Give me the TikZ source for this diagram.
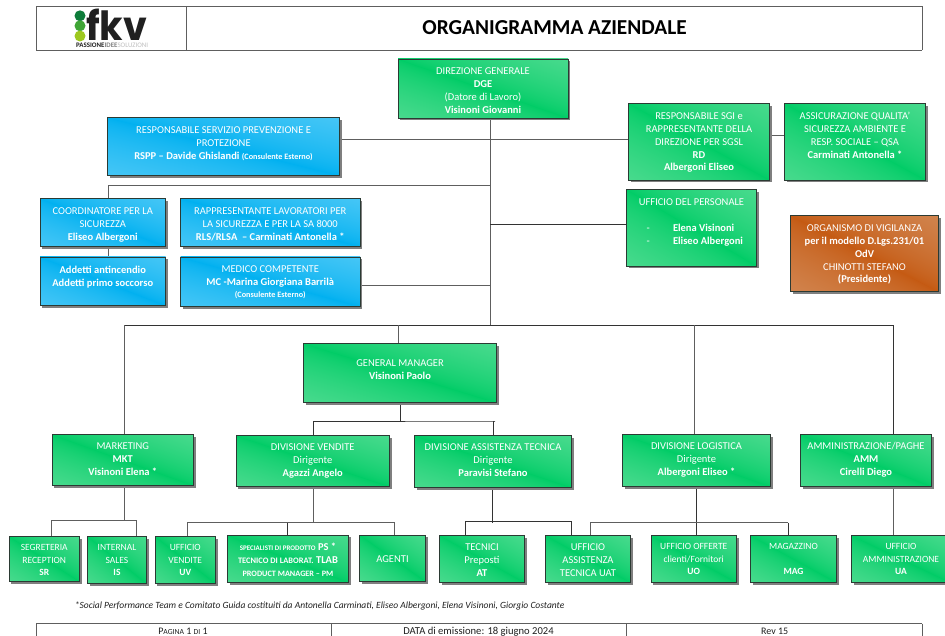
\documentclass[tikz,border=0pt]{standalone}
\usepackage{fontspec}
\usepackage{graphicx}
\setmainfont{Carlito}
\newfontfamily\logofont{Poppins}
\usetikzlibrary{shadows,backgrounds}
\definecolor{lineg}{HTML}{5E5E5E}
\definecolor{lined}{HTML}{333333}
\definecolor{rimc}{HTML}{2B3A33}
\definecolor{shadc}{HTML}{7F7F7F}
\definecolor{ink}{HTML}{202020}
\definecolor{dotone}{HTML}{0E7C3A}
\definecolor{dottwo}{HTML}{3FA535}
\definecolor{dotthree}{HTML}{9DC81F}
\pgfdeclarefunctionalshading{gband}{\pgfpoint{-50bp}{-50bp}}{\pgfpoint{50bp}{50bp}}{}{
  add abs 100 div 0.7 exp dup 0.46 mul exch dup 0.09 mul 0.80 add exch 0.25 mul 0.40 add }
\pgfdeclarefunctionalshading{bband}{\pgfpoint{-50bp}{-50bp}}{\pgfpoint{50bp}{50bp}}{}{
  add abs 100 div 0.7 exp dup 0.44 mul exch dup 0.14 mul 0.69 add exch 0.04 mul 0.94 add }
\pgfdeclarefunctionalshading{oband}{\pgfpoint{-50bp}{-50bp}}{\pgfpoint{50bp}{50bp}}{}{
  add abs 100 div 0.7 exp dup 0.08 mul 0.77 add exch dup 0.27 mul 0.35 add exch 0.38 mul 0.07 add }
\tikzset{
  orgcard/.style={draw=rimc,line width=0.8pt,inner sep=0pt,outer sep=0pt,shade,text=white,
    font=\fontsize{10.5}{12.9}\selectfont,
    drop shadow={shadow xshift=2.4pt,shadow yshift=-2.4pt,fill=shadc,opacity=1}},
  gcard/.style={orgcard,shading=gband},
  bcard/.style={orgcard,shading=bband},
  ocard/.style={orgcard,shading=oband},
  smallcard/.style={gcard,font=\fontsize{9.5}{12.5}\selectfont},
  conn/.style={draw=lineg,line width=0.9pt},
  connd/.style={draw=lined,line width=0.9pt},
  frameline/.style={draw=lineg,line width=1pt},
  labeltext/.style={inner sep=0pt,text=ink}
}
\newcommand{\orgbox}[8]{%
  \pgfmathsetmacro\bw{#5-#3}\pgfmathsetmacro\bh{#6-#4}%
  \node[#2,minimum width=\bw pt,minimum height=\bh pt] (#1) at ({(#3+#5)/2},{(#4+#6)/2})
    {\parbox[c][\bh pt][t]{\bw pt}{\centering\vspace*{#7pt}#8}};}
\newcommand{\tinyb}[1]{{\fontsize{8.2}{12.9}\selectfont\textbf{#1}}}
\newcommand{\specs}[2]{{\fontsize{#1}{12.9}\selectfont\textbf{#2}}}
\begin{document}
\begin{tikzpicture}[x=1pt,y=-1pt]
\useasboundingbox (0,0) rectangle (945,636);
\clip (0,0) rectangle (945,636);

% header
\draw[frameline] (36,6.5) -- (922,6.5) (36,6.5) -- (36,50.5) (186,6.5) -- (186,50.5) (922,6.5) -- (922,50.5);
\draw[draw=lineg,line width=1.1pt] (36,50.5) -- (922,50.5);
\node[labeltext,text=black,font=\fontsize{21.3}{24}\selectfont\bfseries] (title) at (554.5,28) {ORGANIGRAMMA AZIENDALE};
\fill[dotone] (80,15.8) circle (5.5);
\fill[dottwo] (80,25.8) circle (5.5);
\fill[dotthree] (80,36) circle (5.5);
\node[inner sep=0pt,anchor=south west,text=ink] (logo) at (86,40.7) {\resizebox{61pt}{31.5pt}{\logofont\bfseries fkv}};
\node[inner sep=0pt,anchor=north west] (logotag) at (76,43.2) {\resizebox{72pt}{!}{\fontsize{6}{7}\selectfont\color{ink}\textbf{PASSIONE}\color{gray}\textbf{IDEE}\color{lightgray}SOLUZIONI}};

% cards
\orgbox{dg}{gcard}{398}{59}{568}{118}{9}{DIREZIONE GENERALE\\\textbf{DGE}\\(Datore di Lavoro)\\\textbf{Visinoni Giovanni}}
\orgbox{rspp}{bcard}{107.5}{117.5}{339.5}{175.5}{9.5}{RESPONSABILE SERVIZIO PREVENZIONE E\\PROTEZIONE\\\textbf{RSPP -- Davide Ghislandi }\tinyb{(Consulente Esterno)}}
\orgbox{coord}{bcard}{40}{198.5}{165.5}{246.5}{9}{COORDINATORE PER LA\\SICUREZZA\\\textbf{Eliseo Albergoni}}
\orgbox{rls}{bcard}{180.5}{198.5}{360}{246.5}{9}{RAPPRESENTANTE LAVORATORI PER\\LA SICUREZZA E PER LA SA 8000\\\textbf{RLS/RLSA\ \ -- Carminati Antonella *}}
\orgbox{add}{bcard}{40}{257}{165.5}{305.5}{9}{\textbf{Addetti antincendio}\\\textbf{Addetti primo soccorso}}
\orgbox{mc}{bcard}{180.5}{257}{360}{306.5}{9}{MEDICO COMPETENTE\\\textbf{MC -Marina Giorgiana Barrilà}\\[-1.5pt]\tinyb{(Consulente Esterno)}}
\orgbox{rd}{gcard}{628.5}{103.5}{769.5}{180}{9}{RESPONSABILE SGI e\\RAPPRESENTANTE DELLA\\DIREZIONE PER SGSL\\\textbf{RD}\\\textbf{Albergoni Eliseo}}
\orgbox{qsa}{gcard}{784.5}{103.5}{925.5}{180}{9}{ASSICURAZIONE QUALITA’\\SICUREZZA AMBIENTE E\\RESP. SOCIALE -- QSA\\\textbf{Carminati Antonella *}}
\orgbox{up}{gcard}{626.5}{189.5}{756.5}{266}{9.5}{UFFICIO DEL PERSONALE\\[12.8pt]\makebox[\linewidth][l]{\hspace*{20pt}\makebox[26.5pt][l]{-}\textbf{Elena Visinoni}}\\\makebox[\linewidth][l]{\hspace*{20pt}\makebox[26.5pt][l]{-}\textbf{Eliseo Albergoni}}}
\orgbox{odv}{ocard}{790.5}{215.5}{938.5}{291.5}{9}{ORGANISMO DI VIGILANZA\\\textbf{per il modello D.Lgs.231/01}\\\textbf{OdV}\\CHINOTTI STEFANO\\\textbf{(Presidente)}}
\orgbox{gm}{gcard}{303.5}{343.5}{496.5}{402.5}{16}{GENERAL MANAGER\\\textbf{Visinoni Paolo}}
\orgbox{mkt}{gcard}{52}{434.5}{193.5}{485.5}{8}{MARKETING\\\textbf{MKT}\\\textbf{Visinoni Elena *}}
\orgbox{ven}{gcard}{236}{435.5}{389.5}{486.5}{8}{DIVISIONE VENDITE\\Dirigente\\\textbf{Agazzi Angelo}}
\orgbox{ast}{gcard}{414.5}{435.5}{571.5}{487.5}{8}{DIVISIONE ASSISTENZA TECNICA\\Dirigente\\\textbf{Paravisi Stefano}}
\orgbox{log}{gcard}{622.5}{434.5}{770.5}{486.5}{8}{DIVISIONE LOGISTICA\\Dirigente\\\textbf{Albergoni Eliseo *}}
\orgbox{amm}{gcard}{800.5}{434.5}{931.5}{486.5}{8}{AMMINISTRAZIONE/PAGHE\\\textbf{AMM}\\\textbf{Cirelli Diego}}
\orgbox{sr}{smallcard}{9}{536.5}{79.5}{581.5}{8}{SEGRETERIA\\RECEPTION\\\textbf{SR}}
\orgbox{is}{smallcard}{87.5}{536.5}{146.5}{583.5}{8}{INTERNAL\\SALES\\\textbf{IS}}
\orgbox{uv}{smallcard}{155}{536.5}{215.5}{583.5}{8}{UFFICIO\\VENDITE\\\textbf{UV}}
\orgbox{ps}{gcard}{227.5}{535}{348.5}{582.5}{8}{\specs{7}{SPECIALISTI DI PRODOTTO} \textbf{PS *}\\\specs{8.4}{TECNICO DI LABORAT.} \textbf{TLAB}\\\specs{8.2}{PRODUCT MANAGER -- PM}}
\orgbox{ag}{gcard}{359.5}{535}{425.5}{581.5}{20.5}{AGENTI}
\orgbox{at}{gcard}{439.5}{535.5}{524.5}{582.5}{8}{TECNICI\\Preposti\\\textbf{AT}}
\orgbox{uat}{gcard}{545.5}{535.5}{630.5}{582.5}{8}{UFFICIO\\ASSISTENZA\\TECNICA UAT}
\orgbox{uo}{smallcard}{651}{535.5}{736.5}{582.5}{8}{UFFICIO OFFERTE\\clienti/Fornitori\\\textbf{UO}}
\orgbox{mag}{smallcard}{750.5}{535.5}{836.5}{582.5}{8}{MAGAZZINO\\[12.8pt]\textbf{MAG}}
\orgbox{ua}{smallcard}{851.5}{535.5}{950.5}{582.5}{8}{UFFICIO\\AMMINISTRAZIONE\\\textbf{UA}}

% named junctions
\coordinate (trunk) at (490,325.3);
\coordinate (yrd) at (0,139.5);
\coordinate (safeL) at (108.5,185);
\coordinate (ymc) at (0,285.7);
\coordinate (yup) at (0,224.3);
\coordinate (yqsa) at (0,135.7);
\coordinate (xmkt) at (124.4,0);
\coordinate (xgm) at (398,0);
\coordinate (xlog) at (694.7,0);
\coordinate (xamm) at (893.3,0);
\coordinate (gmJ) at (400.3,421);
\coordinate (xven) at (313.7,0);
\coordinate (xast) at (493.3,0);
\coordinate (gmR) at (495,421);
\coordinate (mktJ) at (124.4,520.3);
\coordinate (xsr) at (51.7,0);
\coordinate (xis) at (136,0);
\coordinate (venJ) at (313.7,522.7);
\coordinate (xuv) at (187,0);
\coordinate (xps) at (287.3,0);
\coordinate (xag) at (394,0);
\coordinate (astJ) at (492.3,523.3);
\coordinate (yast) at (0,521.3);
\coordinate (xat) at (465.3,0);
\coordinate (xuat) at (571.7,0);
\coordinate (logJ) at (696.3,522.7);
\coordinate (xuat2) at (590.7,0);
\coordinate (xmag) at (788.3,0);
\coordinate (xuo) at (696.3,0);

\begin{pgfonlayer}{background}
\fill[white] (0,0) rectangle (945,636);
\draw[conn] (trunk |- dg.south) -- (trunk);
\draw[connd] (xmkt |- trunk) -- (xamm |- trunk);
\draw[conn] (xmkt |- trunk) -- (xmkt |- mkt.north);
\draw[conn] (xgm |- trunk) -- (xgm |- gm.north);
\draw[conn] (xlog |- trunk) -- (xlog |- log.north);
\draw[connd] (xamm |- trunk) -- (xamm |- amm.north);
\draw[conn] (yrd -| rspp.east) -- (yrd -| rd.west);
\draw[conn] (safeL |- coord.north) -- (safeL) -- (safeL -| trunk);
\draw[conn] (safeL |- coord.south) -- (safeL |- add.north);
\draw[conn] (ymc -| mc.east) -- (ymc -| trunk);
\draw[connd] (yup -| trunk) -- (yup -| up.west);
\draw[conn] (yqsa -| rd.east) -- (yqsa -| qsa.west);
\draw[connd] (gmJ |- gm.south) -- (gmJ);
\draw[connd] (xven |- ven.north) -- (xven |- gmJ) -- (gmR) -- (xast |- gmR) -- (xast |- ast.north);
\draw[conn] (mktJ |- mkt.south) -- (mktJ);
\draw[conn] (xsr |- sr.north) -- (xsr |- mktJ) -- (xis |- mktJ) -- (xis |- is.north);
\draw[conn] (venJ |- ven.south) -- (venJ);
\draw[conn] (xuv |- uv.north) -- (xuv |- venJ) -- (xag |- venJ) -- (xag |- ag.north);
\draw[connd] (xps |- venJ) -- (xps |- ps.north);
\draw[connd] (astJ |- ast.south) -- (astJ);
\draw[connd] (xat |- at.north) -- (xat |- yast) -- (xuat |- yast) -- (xuat |- uat.north);
\draw[connd] (xuo |- log.south) -- (xuo |- uo.north);
\draw[conn] (xuat2 |- uat.north) -- (xuat2 |- logJ) -- (xmag |- logJ);
\draw[connd] (xmag |- logJ) -- (xmag |- mag.north);
\draw[conn] (xamm |- amm.south) -- (xamm |- ua.north);
\end{pgfonlayer}

% footnote and footer
\node[labeltext,anchor=west,font=\fontsize{9.5}{10}\selectfont\itshape] (note) at (74.7,606) {*Social Performance Team e Comitato Guida costituiti da Antonella Carminati, Eliseo Albergoni, Elena Visinoni, Giorgio Costante};
\draw[frameline] (36,623.7) -- (922,623.7);
\draw[frameline] (36,623.7) -- (36,636) (331.3,623.7) -- (331.3,636) (626.3,623.7) -- (626.3,636) (922,623.7) -- (922,636);
\node[labeltext,anchor=base,font=\fontsize{10}{11}\selectfont] (page) at (183,634) {P{\fontsize{7.7}{8}\selectfont AGINA} 1 {\fontsize{7.7}{8}\selectfont DI} 1};
\node[labeltext,anchor=base,font=\fontsize{10.6}{11}\selectfont] (date) at (478.5,634) {DATA di emissione: 18 giugno 2024};
\node[labeltext,anchor=base,font=\fontsize{10}{11}\selectfont] (rev) at (774.7,634) {Rev 15};
\end{tikzpicture}
\end{document}
